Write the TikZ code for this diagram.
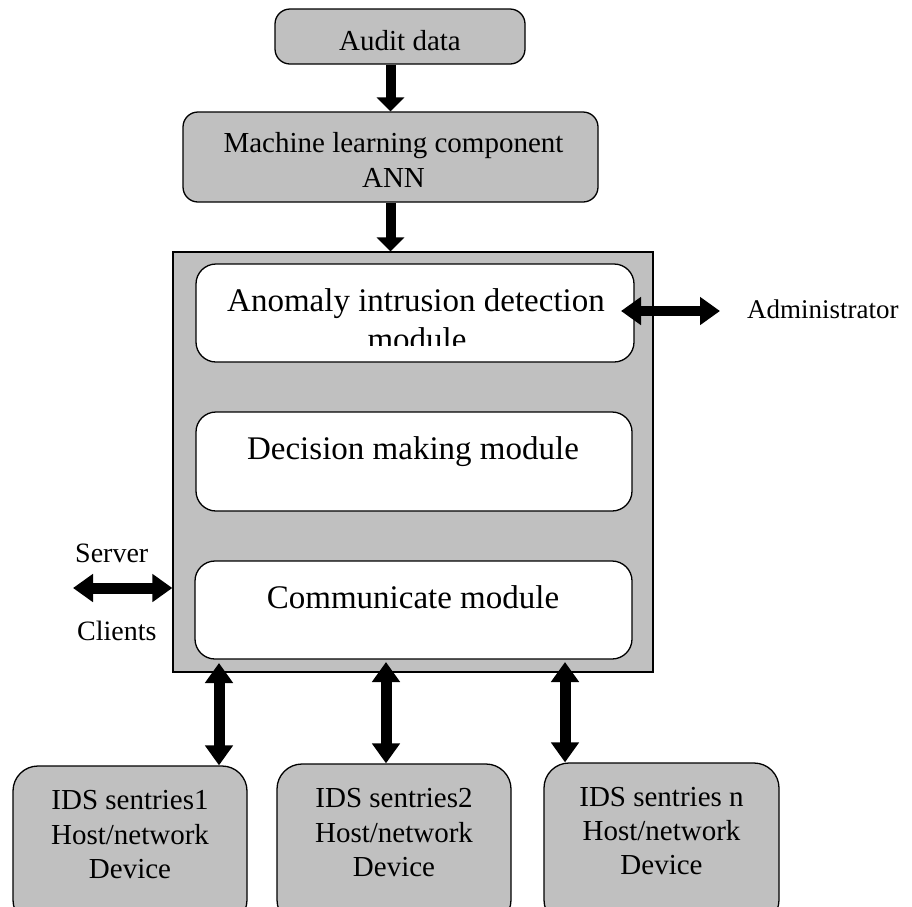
\documentclass[tikz,border=0pt]{standalone}
\usepackage{fontspec}
\setmainfont{Liberation Serif}
\usetikzlibrary{arrows.meta}
\definecolor{panelgray}{RGB}{192,192,192}

\tikzset{
  graybox/.style={draw=black, line width=1.3pt, fill=panelgray, rectangle,
    rounded corners=#1, inner sep=0pt},
  whitebox/.style={draw=black, line width=1.3pt, fill=white, rectangle,
    rounded corners=20pt, inner sep=0pt},
  corebox/.style={draw=black, line width=1.3pt, fill=panelgray, rectangle, inner sep=0pt},
  midtext/.style={font=\fontsize{29pt}{34pt}\selectfont, inner sep=0pt, anchor=base},
  bigtext/.style={font=\fontsize{33pt}{38pt}\selectfont, inner sep=0pt, anchor=base},
  sidetext/.style={font=\fontsize{28pt}{33pt}\selectfont, inner sep=0pt, anchor=base west},
  flowarrow/.style={line width=10pt, -{Triangle[width=27pt,length=14pt]}},
  linkarrow/.style={line width=11pt,
    {Triangle[width=27pt,length=20pt]}-{Triangle[width=27pt,length=20pt]}},
}

\begin{document}
\begin{tikzpicture}[x=1pt, y=-1pt]
  \clip (0,0) rectangle (912,906);
  \fill[white] (0,0) rectangle (912,906);

  % input chain
  \node[graybox=15pt, minimum width=250pt, minimum height=55pt] (audit) at (400,36.5) {};
  \node[midtext] (auditT) at (400,50) {Audit data};

  \node[graybox=15pt, minimum width=415pt, minimum height=90pt] (ml) at (390.5,157) {};
  \node[midtext] (mlA) at (393.5,152) {Machine learning component};
  \node[midtext] (mlB) at (393.5,187) {ANN};

  % IDS core with its three modules
  \node[corebox, minimum width=480pt, minimum height=420pt] (core) at (413,462) {};

  \node[whitebox, minimum width=438pt, minimum height=98pt] (anom) at (415,313) {};
  \node[bigtext] (anomA) at (416,311) {Anomaly intrusion detection};
  \begin{scope}
    \clip (150,250) rectangle (700,345);
    \node[bigtext] (anomB) at (417,350) {module};
  \end{scope}

  \node[whitebox, minimum width=436pt, minimum height=99pt] (dec) at (414,461.5) {};
  \node[bigtext] (decT) at (413,459) {Decision making module};

  \node[whitebox, minimum width=437pt, minimum height=98pt] (com) at (413.5,610) {};
  \node[bigtext] (comT) at (413,608) {Communicate module};

  % sentries
  \node[graybox=25pt, minimum width=234pt, minimum height=159pt] (s1) at (130,845.5) {};
  \node[midtext] (s1a) at (130,809) {IDS sentries1};
  \node[midtext] (s1b) at (130,844) {Host/network};
  \node[midtext] (s1c) at (130,878) {Device};

  \node[graybox=25pt, minimum width=234pt, minimum height=161pt] (s2) at (394,844.5) {};
  \node[midtext] (s2a) at (394,807) {IDS sentries2};
  \node[midtext] (s2b) at (394,842) {Host/network};
  \node[midtext] (s2c) at (394,876) {Device};

  \node[graybox=25pt, minimum width=235pt, minimum height=162pt] (s3) at (661.5,844) {};
  \node[midtext] (s3a) at (661.5,806) {IDS sentries n};
  \node[midtext] (s3b) at (661.5,840) {Host/network};
  \node[midtext] (s3c) at (661.5,874) {Device};

  % side labels
  \node[sidetext, font=\fontsize{27pt}{32pt}\selectfont] (admin) at (747,318) {Administrator};
  \node[sidetext] (server) at (75,562) {Server};
  \node[sidetext] (clients) at (77,640) {Clients};

  % connectors
  \draw[flowarrow] (audit.south -| ml.north) -- (ml.north);
  \draw[flowarrow] (ml.south) -- (ml.south |- core.north);

  \coordinate (admTip) at (621,311);
  \coordinate (admEnd) at (720,311);
  \draw[linkarrow, line width=10pt] (admTip) -- (admEnd);

  \coordinate (srvTip) at (73,588);
  \draw[linkarrow] (srvTip) -- (srvTip -| core.west);

  \coordinate (c1) at (219,663);
  \coordinate (c2) at (386,662);
  \coordinate (c3) at (565,662);
  \draw[linkarrow] (c1) -- (c1 |- s1.north);
  \draw[linkarrow] (c2) -- (c2 |- s2.north);
  \draw[linkarrow] (c3) -- (c3 |- s3.north);
\end{tikzpicture}
\end{document}
